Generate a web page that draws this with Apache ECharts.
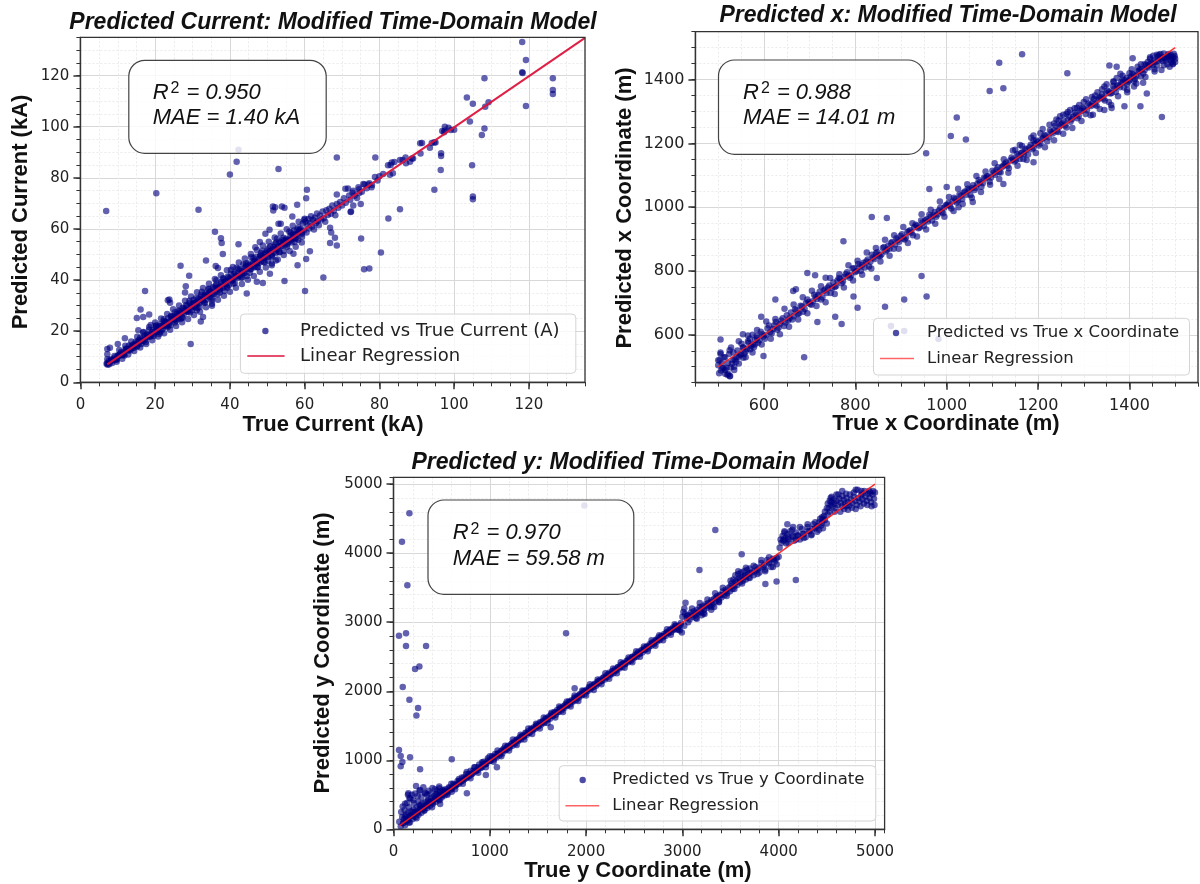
<!DOCTYPE html>
<html>
<head>
<meta charset="utf-8">
<title>Modified Time-Domain Model: predicted vs true</title>
<script src="https://cdn.jsdelivr.net/npm/echarts@6/dist/echarts.min.js"></script>
<style>
  html, body { margin: 0; padding: 0; background: #ffffff; }
  #chart { width: 1200px; height: 884px; }
</style>
</head>
<body>
<div id="chart"></div>
<script>
// ---------- Current (kA): [true, predicted] ----------
const currentBand = [
  [7.0,7.3],[7.3,6.9],[7.6,8.4],[7.9,7.8],[8.2,8.6],[8.5,7.6],[8.8,8.9],[9.1,10.3],[9.4,9.0],[9.7,9.0],
  [10.0,10.6],[10.3,10.6],[10.6,10.5],[10.9,11.9],[11.2,10.6],[11.5,11.7],[11.8,10.5],[12.1,12.8],[12.4,12.8],[12.7,12.4],
  [13.0,14.4],[13.3,12.4],[13.6,13.7],[13.9,13.4],[14.2,14.8],[14.5,14.5],[14.8,15.9],[15.1,14.0],[15.4,16.0],[15.7,15.3],
  [16.0,17.4],[16.3,15.0],[16.6,17.1],[16.9,19.7],[17.2,16.6],[17.5,15.8],[17.8,18.7],[18.1,17.9],[18.4,20.6],[18.7,17.8],
  [19.0,18.5],[19.3,20.4],[19.6,18.1],[19.9,19.9],[20.2,22.2],[20.5,19.7],[20.8,21.3],[21.1,18.9],[21.4,22.8],[21.7,22.0],
  [22.0,21.0],[22.3,24.7],[22.6,22.1],[22.9,23.7],[23.2,22.0],[23.5,25.1],[23.8,23.6],[24.1,22.3],[24.4,24.8],[24.7,25.7],
  [25.0,24.3],[25.3,27.4],[25.6,24.2],[25.9,26.6],[26.2,25.9],[26.5,27.8],[26.8,24.8],[27.1,27.3],[27.4,29.2],[27.7,26.8],
  [28.0,28.5],[28.3,27.7],[28.6,30.1],[28.9,27.6],[29.2,31.9],[29.5,29.6],[29.8,28.2],[30.1,30.9],[30.4,30.9],[30.7,29.4],
  [31.0,33.0],[31.3,30.9],[31.6,32.7],[31.9,29.5],[32.2,32.3],[32.5,35.4],[32.8,31.8],[33.1,31.3],[33.4,34.7],[33.7,34.4],
  [34.0,33.8],[34.3,36.6],[34.6,33.2],[34.9,35.3],[35.2,32.1],[35.5,37.2],[35.8,36.8],[36.1,35.4],[36.4,39.9],[36.7,34.5],
  [37.0,37.2],[37.3,36.2],[37.6,39.2],[37.9,37.8],[38.2,40.7],[38.5,35.7],[38.8,39.6],[39.1,38.6],[39.4,41.3],[39.7,38.0],
  [40.0,40.6],[40.3,44.0],[40.6,39.8],[40.9,38.6],[41.2,42.4],[41.5,41.3],[41.8,44.8],[42.1,40.9],[42.4,41.8],[42.7,44.1],
  [43.0,41.0],[43.3,43.3],[43.6,46.2],[43.9,42.8],[44.2,44.9],[44.5,41.6],[44.8,46.6],[45.1,45.5],[45.4,44.1],[45.7,48.9],
  [46.0,45.3],[46.3,47.4],[46.6,45.0],[46.9,49.1],[47.2,47.0],[47.5,45.1],[47.8,48.3],[48.1,49.4],[48.4,47.4],[48.7,51.5],
  [49.0,47.1],[49.3,50.3],[49.6,49.2],[49.9,51.6],[50.2,47.6],[50.5,50.7],[50.8,53.2],[51.1,49.9],[51.4,52.0],[51.7,50.9],
  [52.0,54.0],[52.3,50.6],[52.6,56.2],[52.9,53.0],[53.2,51.0],[53.5,54.6],[53.8,53.3],[54.1,55.7],[54.4,51.4],[54.7,55.4],
  [55.0,56.2],[55.3,53.9],[55.6,55.8],[55.9,59.0],[56.2,55.6],[56.5,54.7],[56.8,57.6],[57.1,59.4],[57.4,56.4],[57.7,57.6],
  [58.0,59.8],[58.3,55.8],[58.6,59.1],[58.9,60.0],[59.2,58.0],[59.5,62.1],[59.8,59.4],
  [60.2,62.8],[60.5,58.6],[60.8,61.5],[61.0,63.9],[61.2,60.2],[61.5,62.4],[61.7,65.0],[62.0,61.0],[62.2,63.6],[62.5,59.8],
  [62.7,64.4],[63.0,62.2],[63.3,66.1],[63.5,63.0],[63.8,61.5],[64.1,65.3],[64.4,63.7],[64.8,66.8],[65.1,64.2],[65.5,62.8],
  [65.8,67.3],[66.2,65.5],[66.6,67.9],[67.0,66.0],[67.4,69.2],[67.8,67.1],[68.2,65.4],[68.6,69.8],[69.0,68.3],[69.5,70.6],
  [70.0,69.2],[70.5,72.0],[71.0,70.3],[71.6,75.8],[72.2,71.4],[72.8,74.2],[73.4,73.0],[74.0,72.1],[74.6,75.5],[75.3,74.6],
  [76.0,77.4],[76.6,75.9],[77.3,77.9],[78.0,77.2],[78.8,80.3],[79.5,79.0]
];
const currentCore = [
  [7.2,7.5],[7.7,7.1],[8.2,9.0],[8.7,8.5],[9.2,9.7],[9.7,8.8],[10.2,10.3],[10.7,11.3],[11.2,10.8],[11.7,11.0],
  [12.2,13.2],[12.7,12.9],[13.2,12.9],[13.7,14.4],[14.2,13.4],[14.7,15.1],[15.2,14.1],[15.7,16.6],[16.2,16.2],[16.7,16.2],
  [17.2,18.4],[17.7,17.5],[18.2,18.5],[18.7,18.1],[19.2,19.6],[19.7,18.8],[20.2,21.4],[20.7,20.4],[21.2,21.9],[21.7,20.3],
  [22.2,22.3],[22.7,23.6],[23.2,22.6],[23.7,22.6],[24.2,25.7],[24.7,25.0],[25.2,24.7],[25.7,26.7],[26.2,25.0],[26.7,27.3],
  [27.2,25.5],[27.7,29.0],[28.2,28.2],[28.7,27.9],[29.2,31.0],[29.7,29.4],[30.2,30.6],[30.7,29.8],[31.2,31.6],[31.7,30.8],
  [32.2,33.4],[32.7,32.4],[33.2,33.9],[33.7,32.3],[34.2,34.3],[34.7,35.6],[35.2,34.6],[35.7,34.6],[36.2,37.7],[36.7,37.0],
  [37.2,36.7],[37.7,38.7],[38.2,37.0],[38.7,39.3],[39.2,37.5],[39.7,41.0],[40.2,40.2],[40.7,39.9],[41.2,43.0],[41.7,41.4],
  [42.2,42.6],[42.7,41.8],[43.2,43.6],[43.7,42.8],[44.2,45.4],[44.7,44.4],[45.2,45.9],[45.7,44.3],[46.2,46.3],[46.7,47.6],
  [47.2,46.6],[47.7,46.6],[48.2,49.7],[48.7,49.0],[49.2,48.7],[49.7,50.7],[50.2,49.0],[50.7,51.3],[51.2,49.5],[51.7,53.0],
  [52.2,52.2],[52.7,51.9],[53.2,55.0],[53.7,53.4],[54.2,54.6],[54.7,53.8],[55.2,55.6],[55.7,54.8],[56.2,57.4],[56.7,56.4],
  [57.2,57.9],[57.7,56.3],[58.2,58.3],[58.7,59.6],[59.2,58.6]
];
const currentMid = [
  [20.3,22.0],[21.3,19.6],[22.3,23.9],[23.3,21.5],[24.3,26.0],[25.3,23.4],[26.3,28.1],[27.3,25.3],[28.3,30.2],[29.3,27.3],
  [30.3,32.3],[31.3,29.1],[32.3,34.3],[33.3,31.0],[34.3,36.4],[35.3,33.0],[36.3,38.3],[37.3,35.1],[38.3,40.4],[39.3,37.0],
  [40.3,42.5],[41.3,38.9],[42.3,44.4],[43.3,41.0],[44.3,46.5],[45.3,42.9],[46.3,48.5],[47.3,45.0],[48.3,50.6],[49.3,46.9],
  [50.3,52.5],[51.3,49.0],[52.3,54.6],[53.3,50.9],[54.3,56.6],[55.3,53.0],[56.3,58.5],[57.3,54.9],[58.3,60.6],[59.3,57.0]
];
const currentWide = [
  [10.4,12.6],[11.2,9.2],[12.0,14.3],[12.8,10.9],[13.6,16.0],[14.4,12.2],[15.2,17.8],[16.0,13.6],[16.8,19.5],[17.6,15.0],
  [18.4,21.6],[19.2,16.5],[20.0,23.4],[20.8,17.9],[21.6,25.0],[22.4,19.2],[23.2,26.7],[24.0,20.6],[24.8,28.6],[25.6,22.0],
  [26.4,30.1],[27.2,23.5],[28.0,31.9],[28.8,24.8],[29.6,33.6],[30.4,26.3],[31.2,35.2],[32.0,27.6],[32.8,36.9],[33.6,29.4],
  [34.4,38.6],[35.2,30.7],[36.0,40.4],[36.8,32.3],[37.6,41.9],[38.4,33.9],[39.2,43.8],[40.0,35.4],[40.8,45.1],[41.6,37.0],
  [42.4,46.9],[43.2,38.5],[44.0,48.4],[44.8,40.1],[45.6,50.2],[46.4,41.6],[47.2,51.8],[48.0,43.3],[48.8,53.5],[49.6,44.9],
  [50.4,55.0],[51.2,46.5],[52.0,56.7],[52.8,48.1],[53.6,58.2],[54.4,49.8],[55.2,59.9],[56.0,51.4],[56.8,61.3],[57.6,53.0],
  [58.4,62.8],[59.2,54.7],[60.0,64.0]
];
const currentOutliers = [
  [7.2,13.0],[7.9,13.5],[7.2,11.0],[7.2,9.0],[9.7,8.0],[10.0,15.0],[11.9,17.2],
  [6.9,67.0],[20.3,74.0],[31.6,67.5],[40.0,81.3],[41.8,86.3],[42.3,91.0],[53.0,83.5],[68.6,88.0],
  [36.0,58.9],[37.6,56.4],[37.8,54.5],[33.6,47.7],[38.1,50.2],[42.3,54.0],[26.8,45.6],[29.1,41.7],[17.3,35.7],[29.5,15.0],
  [54.6,39.6],[60.1,35.7],[65.0,41.0],[60.4,48.2],[61.4,51.3],
  [118.2,133.2],[119.2,126.1],[118.2,121.3],[118.3,121.0],[126.4,119.0],[126.4,114.4],[126.4,112.8],[119.2,108.1],[108.1,119.0],
  [103.4,111.4],[105.0,109.0],[108.3,107.8],[109.2,109.6],[104.2,102.1],[108.1,99.3],[107.4,96.8],
  [97.5,100.0],[96.8,98.3],[97.3,97.8],[99.1,98.7],[94.0,93.6],[94.7,93.9],[90.9,93.5],[91.0,89.5],[96.5,89.6],[96.5,88.6],
  [96.4,83.1],[94.7,75.3],[104.8,84.9],[105.0,72.7],[105.0,71.6],
  [88.7,87.6],[87.1,85.7],[86.2,87.0],[82.3,84.9],[83.3,86.0],[82.8,81.2],[78.9,88.0],[80.0,80.6],[85.5,67.7],[82.4,64.1],
  [80.4,50.8],[75.1,56.3],[75.9,44.2],[77.3,44.5],
  [66.8,60.5],[67.1,58.6],[68.1,56.6],[66.8,54.5],[68.6,53.5],
  [72.4,66.8],[75.0,69.8],[73.0,69.2],[70.9,75.7],[71.9,73.1],[73.0,75.0],[74.4,76.3],[75.7,77.6],[77.0,77.4],[77.9,76.3],[74.6,74.1],
  [68.6,73.5],[72.3,66.6],[60.4,72.0],[60.6,75.3],[58.0,69.5],[53.9,68.8],[51.5,68.8],[53.0,62.0],[50.6,59.7],[59.9,63.6],
  [44.5,34.7],[48.8,38.9],[50.7,42.5],[47.2,39.3],[52.3,47.7],[58.1,45.8],[57.0,50.3],[51.2,45.8],
  [16.1,28.5],[15.1,25.2],[16.8,25.6],[18.4,26.5],[18.8,22.4],[15.5,20.4],[23.4,32.1],[24.0,31.1],[28.2,37.6],[28.0,35.1],
  [36.2,45.5],[36.8,44.7],[46.8,52.8],[35.2,30.0],[32.8,25.6],[31.1,28.2],[32.2,23.8],[23.8,32.4],[51.6,67.2],[52.1,68.5],
  [54.6,68.3],[56.7,64.9],[53.6,62.0],[49.5,58.1],[48.0,54.9],
  [81.0,81.5],[83.0,85.0],[84.0,86.2],[83.6,81.8],[85.5,87.0],[87.0,88.0],[88.2,86.3],[89.0,87.6],[91.4,93.6],[93.5,91.8],
  [95.0,93.8],[97.5,98.5],[98.5,99.6],[100.0,98.8]
];
const currentFit = [[7.2,7.0],[135,134.8]];

// ---------- x coordinate (m): [true, predicted] ----------
const xBandA = [
  [500,505],[506,488],[512,530],[518,497],[524,540],[530,509],[536,523],[542,551],[548,537],[554,560],
  [560,548],[566,575],[572,565],[578,561],[584,596],[590,583],[596,602],[602,588],[608,621],[614,609],
  [620,618],[626,640],[632,622],[638,645],[644,628],[650,661],[656,652],[662,648],[668,680],[674,665],
  [680,691],[686,672],[692,700],[698,703],[704,694],[710,726],[716,712],[722,735],[728,717],[734,742],
  [740,748],[746,731],[752,764],[758,753],[764,778],[770,762],[776,781],[782,796],[788,779],[794,808],
  [800,797],[806,822],[812,801],[818,826],[824,830],[830,814],[836,851],[842,838],[848,859],[854,846],
  [860,872],[866,861],[872,879],[878,888],[884,870],[890,903],[896,892],[902,915],[908,899],[914,922],
  [920,928],[926,912],[932,945],[938,934],[944,958],[950,941],[956,962],[962,976],[968,958],[974,985],
  [980,977],[986,998],[992,981],[998,1006],[1004,1013],[1010,996],[1016,1030],[1022,1015],[1028,1040],[1034,1026],
  [1040,1049],[1046,1058],[1052,1038],[1058,1069],[1064,1061],[1070,1085],[1076,1064],[1082,1093],[1088,1096],[1094,1080],
  [1100,1114],[1106,1102],[1112,1125],[1118,1109],[1124,1131],[1130,1140],[1136,1122],[1142,1156],[1148,1143],[1154,1167],
  [1160,1151],[1166,1172],[1172,1183],[1178,1165],[1184,1196],[1190,1186],[1196,1209],[1202,1193],[1208,1214],[1214,1226],
  [1220,1207],[1226,1240],[1232,1231],[1238,1255],[1244,1236],[1250,1258],[1256,1271],[1262,1250],[1268,1285],[1274,1276],
  [1280,1296],[1286,1279],[1292,1303],[1298,1312],[1304,1292],[1310,1325],[1316,1317],[1322,1339],[1328,1318],[1334,1342],
  [1340,1353],[1346,1334],[1352,1366],[1358,1356],[1364,1379],[1370,1361],[1376,1383],[1382,1392],[1388,1375],[1394,1405],
  [1400,1399],[1406,1418],[1412,1402],[1418,1425],[1424,1433],[1430,1419],[1436,1446],[1442,1438],[1448,1452],[1454,1460],
  [1460,1444],[1466,1470],[1472,1458],[1478,1466],[1484,1475],[1490,1462],[1496,1470],[1500,1455]
];
const xBandB = [
  [503,520],[509,495],[515,478],[521,512],[527,498],[533,545],[539,516],[545,531],[551,572],[557,541],
  [563,556],[569,588],[575,570],[581,584],[587,575],[593,610],[599,595],[605,600],[611,629],[617,605],
  [623,630],[629,616],[635,634],[641,652],[647,639],[653,645],[659,670],[665,658],[671,677],[677,668],
  [683,689],[689,681],[695,711],[701,697],[707,705],[713,719],[719,725],[725,711],[731,738],[737,731],
  [743,755],[749,746],[755,750],[761,770],[767,774],[773,767],[779,790],[785,786],[791,787],[797,809],
  [803,800],[809,813],[815,819],[821,811],[827,836],[833,829],[839,842],[845,855],[851,848],[857,852],
  [863,875],[869,866],[875,870],[881,891],[887,883],[893,897],[899,910],[905,902],[911,906],[917,925],
  [923,920],[929,937],[935,942],[941,936],[947,952],[953,959],[959,955],[965,971],[971,975],[977,970],
  [983,990],[989,986],[995,999],[1001,1008],[1007,1004],[1013,1018],[1019,1026],[1025,1020],[1031,1036],[1037,1045],
  [1043,1039],[1049,1055],[1055,1059],[1061,1054],[1067,1073],[1073,1079],[1079,1075],[1085,1091],[1091,1097],[1097,1093],
  [1103,1108],[1109,1117],[1115,1110],[1121,1126],[1127,1135],[1133,1130],[1139,1146],[1145,1150],[1151,1147],[1157,1162],
  [1163,1170],[1169,1166],[1175,1180],[1181,1188],[1187,1182],[1193,1199],[1199,1205],[1205,1200],[1211,1217],[1217,1224],
  [1223,1219],[1229,1236],[1235,1241],[1241,1238],[1247,1253],[1253,1262],[1259,1256],[1265,1273],[1271,1268],[1277,1284],
  [1283,1290],[1289,1286],[1295,1302],[1301,1309],[1307,1304],[1313,1320],[1319,1327],[1325,1322],[1331,1337],[1337,1345],
  [1343,1340],[1349,1356],[1355,1362],[1361,1358],[1367,1372],[1373,1380],[1379,1376],[1385,1391],[1391,1397],[1397,1393],
  [1403,1409],[1409,1414],[1415,1411],[1421,1428],[1427,1432],[1433,1429],[1439,1441],[1445,1448],[1451,1446],[1457,1455],
  [1463,1459],[1469,1464],[1475,1470],[1481,1468],[1487,1473],[1493,1466],[1499,1474]
];
const xWide = [
  [505,545],[515,490],[525,552],[535,500],[545,580],[555,528],[565,598],[575,545],[585,615],[595,570],
  [605,642],[615,588],[625,650],[635,602],[645,682],[655,625],[665,695],[675,648],[685,718],[695,668],
  [705,738],[715,690],[725,752],[735,702],[745,778],[755,728],[765,790],[775,748],[785,818],[795,770],
  [805,832],[815,788],[825,858],[835,808],[845,872],[855,830],[865,898],[875,848],[885,912],[895,870],
  [905,938],[915,888],[925,950],[935,908],[945,978],[955,930],[965,992],[975,948],[985,1018],[995,970],
  [1005,1032],[1015,988],[1025,1058],[1035,1010],[1045,1072],[1055,1030],[1065,1098],[1075,1048],[1085,1112],[1095,1070],
  [1105,1138],[1115,1088],[1125,1150],[1135,1108],[1145,1178],[1155,1130],[1165,1192],[1175,1148],[1185,1218],[1195,1170],
  [1205,1232],[1215,1188],[1225,1258],[1235,1210],[1245,1272],[1255,1230],[1265,1298],[1275,1248],[1285,1312],[1295,1270],
  [1305,1338],[1315,1288],[1325,1350],[1335,1308],[1345,1378],[1355,1330],[1365,1392],[1375,1348],[1385,1412],[1395,1368],
  [1405,1432],[1415,1388],[1425,1448],[1435,1408],[1445,1470],[1455,1432],[1465,1478],[1475,1445],[1485,1480],[1495,1450]
];
const xSpread = [
  [1445,1465],[1452,1475],[1460,1478],[1468,1480],[1475,1482],[1483,1448],[1490,1478],[1497,1481],[1500,1465],[1495,1448],
  [1488,1440],[1470,1430],[1462,1472],[1455,1425],[1480,1460],[1492,1456],[1440,1455],[1433,1448],[1425,1410],[1410,1395],
  [1418,1440],[1400,1420],[1395,1385],[1385,1400],[1380,1418],[1372,1405],[1365,1395],[1350,1385],[1340,1370],[1330,1360],
  [1318,1345],[1300,1330],[1290,1320],[1280,1310],[1270,1305],[1262,1292],[1255,1290],[1248,1285],[1240,1275],[1235,1262],
  [1210,1245],[1190,1225],[1160,1195],[1150,1180],[1320,1290],[1345,1305],[1360,1320],[1395,1360],[1410,1378],[1430,1390],
  [500,520],[502,480],[505,540],[508,512],[512,495],[515,530],[520,475],[525,470],[528,560],[532,520],
  [535,490],[540,530],[545,510],[550,540],[555,560],[560,530],[565,580],[570,555],[575,600],[580,570],[585,590]
];
const xOutliers = [
  [1165,1479],[1115,1453],[1094,1364],[1124,1373],[1022,1281],[1009,1223],[1042,1212],[955,1169],[1264,1420],[1471,1283],
  [1438,1356],[1424,1316],[1389,1316],[1361,1311],[1356,1444],[1372,1440],[1407,1467],[1190,1141],[1168,1151],[1124,1073],
  [1190,1209],[1000,1063],[1057,1016],[1026,1000],[836,969],[869,966],[774,893],[945,784],[956,720],[907,711],
  [865,688],[796,720],[805,685],[847,778],[756,657],[770,634],[717,640],[688,530],[695,794],[712,787],
  [735,779],[664,737],[670,743],[625,711],[594,657],[599,534],[554,602],[505,585],[526,471],[522,477],
  [962,1057],[878,628],[907,612],[982,587]
];
const xFit = [[500,500],[1500,1500]];

// ---------- y coordinate (m): [true, predicted] ----------
const yBand = [
  [60,110],[75,40],[90,180],[100,90],[110,150],[120,60],[130,210],[140,120],[150,240],[160,180],
  [170,100],[180,260],[190,200],[200,150],[210,290],[220,230],[230,180],[240,320],[250,260],[260,210],
  [270,350],[280,300],[290,240],[300,380],[310,320],[320,280],[330,400],[340,350],[350,310],[360,430],
  [370,380],[380,340],[390,450],[400,410],[410,370],[420,480],[430,440],[440,400],[450,510],[460,470],
  [470,430],[480,540],[490,500],[500,460],[510,560],[520,520],[530,490],[540,580],[550,545],[560,520],
  [575,610],[590,570],[605,590],[620,660],[635,620],[650,640],[665,700],[680,660],[695,690],[710,750],
  [725,710],[740,730],[755,800],[770,760],[785,770],[800,850],[815,800],[830,820],[845,900],[860,850],
  [875,860],[890,940],[905,890],[920,900],[935,980],[950,940],[965,950],[980,1030],[995,990],[1010,1000],
  [1025,1060],[1040,1010],[1055,1090],[1070,1040],[1085,1100],[1100,1070],[1115,1130],[1130,1100],[1145,1170],[1160,1140],
  [1175,1160],[1190,1210],[1205,1180],[1220,1230],[1235,1210],[1250,1270],[1265,1240],[1280,1300],[1295,1280],[1310,1330],
  [1325,1300],[1340,1360],[1355,1340],[1370,1400],[1385,1370],[1400,1420],[1415,1400],[1430,1460],[1445,1430],[1460,1480],
  [1475,1460],[1490,1520],[1505,1490],[1520,1550],[1535,1520],[1550,1570],[1565,1540],[1580,1610],[1595,1580],[1610,1630],
  [1625,1600],[1640,1670],[1655,1640],[1670,1700],[1685,1660],[1700,1730],[1715,1700],[1730,1760],[1745,1720],[1760,1780],
  [1775,1760],[1790,1820],[1805,1790],[1820,1850],[1835,1810],[1850,1870],[1865,1850],[1880,1910],[1895,1870],[1910,1930],
  [1925,1910],[1940,1960],[1955,1940],[1970,2000],[1985,1960],[2000,2020],[2015,2000],[2030,2060],[2045,2030],[2060,2080],
  [2075,2060],[2090,2110],[2105,2080],[2120,2140],[2135,2120],[2150,2170],[2165,2150],[2180,2200],[2195,2170],[2210,2230],
  [2225,2210],[2240,2270],[2255,2240],[2270,2290],[2285,2260],[2300,2320],[2315,2300],[2330,2350],[2345,2330],[2360,2380],
  [2375,2350],[2390,2410],[2405,2390],[2420,2440],[2435,2420],[2450,2470],[2465,2440],[2480,2500],[2495,2480],[2510,2530],
  [2525,2500],[2540,2570],[2555,2540],[2570,2590],[2585,2560],[2600,2620],[2615,2600],[2630,2650],[2645,2620],[2660,2680],
  [2675,2660],[2690,2710],[2705,2680],[2720,2740],[2735,2720],[2750,2780],[2765,2740],[2780,2800],[2795,2780],[2810,2830],
  [2825,2800],[2840,2860],[2855,2840],[2870,2890],[2885,2860],[2900,2920],[2915,2890],[2930,2950],[2945,2900],[2960,2940],
  [2975,2880],[2985,2990],[2995,2850],[3000,3080],[3010,3150],[3020,2950],
  [3030,3120],[3045,3060],[3060,3100],[3075,3040],[3090,3140],[3105,3080],[3120,3160],[3135,3100],[3150,3180],[3165,3130],
  [3180,3220],[3195,3150],[3210,3230],[3225,3180],[3240,3260],[3255,3210],[3270,3280],[3285,3240],[3300,3320],[3315,3260],
  [3330,3340],[3345,3300],[3360,3380],[3375,3330],[3390,3400],[3405,3360],[3420,3450],[3435,3390],[3450,3470],[3465,3420],
  [3480,3500],[3495,3450],[3150,3050],[3200,3100],[3230,3120],[3300,3180],[3330,3220],[3380,3290],
  [3510,3560],[3520,3480],[3530,3620],[3540,3520],[3550,3680],[3560,3600],[3570,3540],[3580,3700],[3590,3640],[3600,3580],
  [3610,3720],[3620,3660],[3630,3600],[3640,3740],[3650,3680],[3660,3620],[3670,3760],[3680,3700],[3690,3650],[3700,3780],
  [3720,3720],[3740,3680],[3760,3800],[3780,3760],[3800,3720],[3820,3860],[3840,3800],[3860,3760],[3880,3900],[3900,3850],
  [3920,3800],[3940,3920],[3960,3880],[3980,3840],[4000,3950],
  [4010,4080],[4020,4200],[4030,4150],[4040,4250],[4050,4180],[4060,4300],[4070,4220],[4080,4140],[4090,4280],[4100,4200],
  [4120,4320],[4140,4240],[4160,4180],[4180,4300],[4200,4250],[4220,4200],[4240,4350],[4260,4280],[4280,4230],[4300,4380],
  [4320,4320],[4340,4270],[4360,4420],[4380,4360],[4400,4310],[4420,4450],[4440,4400],[4460,4360],[4480,4480],[4500,4430],
  [4090,4420],[4150,4380],
  [4510,4720],[4520,4650],[4530,4760],[4540,4700],[4550,4740],[4560,4680],[4570,4780],[4580,4720],[4590,4650],[4600,4760],
  [4615,4700],[4630,4790],[4645,4730],[4660,4680],[4675,4770],[4690,4720],[4705,4800],[4720,4740],[4735,4690],[4750,4780],
  [4765,4730],[4780,4820],[4795,4760],[4810,4700],[4825,4800],[4840,4750],[4855,4840],[4870,4780],[4885,4720],[4900,4820],
  [4915,4760],[4930,4860],[4945,4800],[4960,4740],[4975,4850],[4990,4790],[5000,4880],[4995,4700],[4980,4900],[4965,4680],
  [4950,4880],[4920,4700],[4890,4900],[4870,4860],[4850,4680],[4820,4920],[4800,4640],[4780,4880],[4760,4660],[4740,4850],
  [4720,4630],[4700,4860],[4680,4640],[4660,4830],[4640,4600],[4620,4850],[4580,4600],[4550,4820],[4530,4600],[4510,4560],
  [4480,4600],[4470,4540],[4450,4520],[4430,4500],[4800,4920]
];
const yCore = [
  [105,95],[130,150],[155,140],[180,200],[205,190],[230,250],[255,240],[280,300],[305,290],[330,345],
  [355,340],[380,395],[405,390],[430,445],[455,440],[480,495],[505,490],[530,550],[555,545],[580,600],
  [605,595],[630,645],[655,650],[680,700],[705,695],[730,750],[755,745],[780,800],[805,795],[830,850],
  [855,845],[880,900],[905,895],[930,950],[955,945],[980,1000],[1005,995],[1030,1045],[1055,1050],[1080,1095],
  [1105,1100],[1130,1145],[1155,1150],[1180,1195],[1205,1200],[1230,1245],[1255,1250],[1280,1295],[1305,1300],[1330,1345],
  [1355,1350],[1380,1395],[1405,1400],[1430,1445],[1455,1450],[1480,1495],[1505,1500],[1530,1545],[1555,1550],[1580,1595],
  [1605,1600],[1630,1645],[1655,1650],[1680,1695],[1705,1700],[1730,1745],[1755,1750],[1780,1795],[1805,1800],[1830,1845],
  [1855,1850],[1880,1895],[1905,1900],[1930,1945],[1955,1950],[1980,1995],[2005,2000],[2030,2045],[2055,2050],[2080,2095],
  [2105,2100],[2130,2145],[2155,2150],[2180,2195],[2205,2200],[2230,2245],[2255,2250],[2280,2295],[2305,2300],[2330,2345],
  [2355,2350],[2380,2395],[2405,2400],[2430,2445],[2455,2450],[2480,2495],[2505,2500],[2530,2545],[2555,2550],[2580,2595],
  [2605,2600],[2630,2645],[2655,2650],[2680,2695],[2705,2700],[2730,2745],[2755,2750],[2780,2795],[2805,2800],[2830,2845],
  [2855,2850],[2880,2895],[2905,2900],[2930,2945],[2955,2930],[2980,2960],
  [3050,3090],[3100,3110],[3150,3140],[3200,3200],[3250,3240],[3300,3290],[3350,3360],[3400,3390],[3450,3440],[3500,3520],
  [3550,3580],[3600,3620],[3650,3660],[3700,3710],[3750,3740],[3800,3790],[3850,3830],[3900,3870],[3950,3910],[4050,4200],
  [4100,4230],[4150,4250],[4200,4260],[4250,4280],[4300,4320],[4350,4350],[4400,4390],[4450,4440]
];
const yWide = [
  [120,190],[160,100],[200,250],[240,160],[280,340],[320,270],[360,410],[400,320],[440,510],[480,420],
  [520,570],[560,500],[600,660],[640,580],[680,730],[720,660],[760,830],[800,740],[840,900],[880,820],
  [920,970],[960,900],[1000,1060],[1040,980],[1080,1140],[1120,1060],[1160,1210],[1200,1140],[1240,1300],[1280,1220],
  [1320,1370],[1360,1300],[1400,1460],[1440,1380],[1480,1530],[1520,1460],[1560,1620],[1600,1540],[1640,1690],[1680,1620],
  [1720,1780],[1760,1700],[1800,1850],[1840,1780],[1880,1940],[1920,1860],[1960,2010],[2000,1940],[2040,2100],[2080,2020],
  [2120,2170],[2160,2100],[2200,2260],[2240,2180],[2280,2330],[2320,2260],[2360,2420],[2400,2340],[2440,2490],[2480,2420],
  [2520,2580],[2560,2500],[2600,2650],[2640,2580],[2680,2740],[2720,2660],[2760,2810],[2800,2740],[2840,2900],[2880,2820],
  [2920,2970],[2960,2890],
  [3020,3200],[3060,3000],[3100,3200],[3140,3060],[3180,3280],[3220,3130],[3260,3330],[3300,3220],[3340,3420],[3380,3300],
  [3420,3500],[3460,3380],[3500,3600],[3540,3480],[3580,3740],[3620,3560],[3660,3790],[3700,3640],[3740,3820],[3780,3700],
  [3820,3900],[3860,3740],[3900,3940],[3940,3800],[3980,3930],[4060,4320],[4100,4150],[4140,4340],[4180,4200],[4220,4380],
  [4260,4220],[4300,4420],[4340,4260],[4380,4450],[4420,4340],[4460,4500],[4500,4650],[4540,4800],[4600,4850],[4660,4900],
  [4700,4680],[4860,4900],[4940,4900]
];
const yLowSpread = [
  [80,250],[95,330],[115,280],[140,380],[160,320],[175,450],[190,500],[205,420],[225,520],[250,480],
  [270,560],[290,470],[310,610],[330,520],[350,500],[365,560],[385,520],[405,600],[430,580],[455,560],
  [475,620],[150,500],[210,380],[120,370],[260,400],[154,522],[165,449],[234,628],[276,570],[328,530],
  [477,594],[484,367],[605,545]
];
const yOutliers = [
  [165,4580],[88,4168],[144,3536],[57,2806],[130,2840],[130,2657],[338,2657],[224,2323],[269,2357],[96,2062],
  [165,1878],[255,1758],[238,1647],[57,1149],[75,1062],[92,975],[75,913],[172,1043],[276,870],[605,1014],
  [959,787],[1074,899],[762,522],[1792,2840],[1982,4690],[1881,2043],[3342,4338],[3177,3758],[4178,3613],[3862,3555],
  [3978,3589],[3616,3986],[1633,1478],[3033,3284]
];
const yFit = [[60,50],[5000,5000]];

// ---------- Axis ticks ----------
const currentTicks = [0, 20, 40, 60, 80, 100, 120];
const xCoordTicks = [600, 800, 1000, 1200, 1400];
const yCoordTicks = [0, 1000, 2000, 3000, 4000, 5000];

// ---------- Panel text ----------
const titles = [
  'Predicted Current: Modified Time-Domain Model',
  'Predicted x: Modified Time-Domain Model',
  'Predicted y: Modified Time-Domain Model'
];
const xNames = ['True Current (kA)', 'True x Coordinate (m)', 'True y Coordinate (m)'];
const yNames = ['Predicted Current (kA)', 'Predicted x Coordinate (m)', 'Predicted y Coordinate (m)'];
const r2Values = ['0.950', '0.988', '0.970'];
const maeValues = ['1.40 kA', '14.01 m', '59.58 m'];
const scatterNames = ['Predicted vs True Current (A)', 'Predicted vs True x Coordinate', 'Predicted vs True y Coordinate'];
const fitName = 'Linear Regression';

// ---------- Styling helpers ----------
const NAVY = '#000080';
const TICK_FONT = 'DejaVu Sans';
const HEAD_FONT = 'Liberation Sans';

function minorAxis(grid, pos, min, max, step) {
  return {
    type: 'value', gridIndex: grid, position: pos, min: min, max: max, interval: step,
    axisLine: { show: false, onZero: false },
    axisTick: { show: true, inside: false, length: 4, lineStyle: { color: '#333', width: 1 } },
    axisLabel: { show: false },
    splitLine: { show: true, lineStyle: { color: '#ebebeb', width: 1, type: [2, 2] } },
    silent: true
  };
}
function majorAxis(grid, pos, min, max, interval, ticks, fontSize) {
  const ax = {
    type: 'value', gridIndex: grid, position: pos, min: min, max: max,
    axisLine: { show: true, onZero: false, lineStyle: { color: '#333', width: 1.3 } },
    axisTick: { show: true, inside: false, length: 7, lineStyle: { color: '#333', width: 1.5 }, customValues: ticks },
    axisLabel: {
      show: true, margin: pos === 'bottom' ? 15 : 11, fontFamily: TICK_FONT, fontSize: fontSize, color: '#222',
      customValues: ticks, formatter: function (v) { return String(v); }
    },
    splitLine: { show: true, lineStyle: { color: '#d8d8d8', width: 1 } },
    silent: true
  };
  if (interval) ax.interval = interval;
  return ax;
}
function scatterSeries(name, xi, yi, data) {
  return {
    type: 'scatter', name: name, xAxisIndex: xi, yAxisIndex: yi, data: data,
    symbol: 'circle', symbolSize: 6.5, itemStyle: { color: NAVY, opacity: 0.62 },
    silent: true, z: 2, animation: false
  };
}
function fitSeries(xi, yi, data, color, width, opacity) {
  return {
    type: 'line', name: fitName, xAxisIndex: xi, yAxisIndex: yi, data: data,
    symbol: 'none', lineStyle: { color: color, width: width, opacity: opacity },
    silent: true, z: 3, animation: false
  };
}

// Text helpers for the graphic layer
function label(x, y, text, size, weight, style, rot) {
  return {
    type: 'text', x: x, y: y, rotation: rot || 0, z: 120, silent: true,
    style: {
      text: text, fill: '#111', fontFamily: HEAD_FONT, fontSize: size, fontWeight: weight, fontStyle: style,
      textAlign: 'center', textVerticalAlign: 'middle', align: 'center', verticalAlign: 'middle'
    }
  };
}
function frame(x, y, w, h) {
  return { type: 'rect', z: 105, silent: true, shape: { x: x, y: y, width: w, height: h },
    style: { fill: 'none', stroke: '#333', lineWidth: 1.3 } };
}
function statBox(x, y, w, h, tx, ty1, ty2, r2, mae) {
  return [
    { type: 'rect', z: 110, silent: true, shape: { x: x, y: y, width: w, height: h, r: 16 },
      style: { fill: 'rgba(255,255,255,0.82)', stroke: '#444', lineWidth: 1.2 } },
    { type: 'text', x: tx, y: ty1, z: 120, silent: true,
      style: {
        text: '{i|R}{s|2}{i| = ' + r2 + '}', fill: '#111', textAlign: 'left', textVerticalAlign: 'middle',
        align: 'left', verticalAlign: 'middle',
        rich: {
          i: { fontFamily: HEAD_FONT, fontSize: 22, fontStyle: 'italic', fill: '#111', lineHeight: 24 },
          s: { fontFamily: HEAD_FONT, fontSize: 16, fill: '#111', verticalAlign: 'top', lineHeight: 14, padding: [0, 1, 0, 2] }
        }
      } },
    { type: 'text', x: tx, y: ty2, z: 120, silent: true,
      style: { text: 'MAE = ' + mae, fill: '#111', fontFamily: HEAD_FONT, fontSize: 22, fontStyle: 'italic',
        textAlign: 'left', textVerticalAlign: 'middle', align: 'left', verticalAlign: 'middle' } }
  ];
}
function legendBox(x, y, w, h, mx, my, lx1, lx2, ly, tx, scatterText, lineColor, lineWidth, fontSize) {
  return [
    { type: 'rect', z: 110, silent: true, shape: { x: x, y: y, width: w, height: h, r: 4 },
      style: { fill: 'rgba(255,255,255,0.8)', stroke: '#d4d4d4', lineWidth: 1 } },
    { type: 'circle', z: 120, silent: true, shape: { cx: mx, cy: my, r: 3.2 },
      style: { fill: NAVY, opacity: 0.7 } },
    { type: 'line', z: 120, silent: true, shape: { x1: lx1, y1: ly, x2: lx2, y2: ly },
      style: { stroke: lineColor, lineWidth: lineWidth, opacity: 0.75 } },
    { type: 'text', x: tx, y: my, z: 120, silent: true,
      style: { text: scatterText, fill: '#222', fontFamily: TICK_FONT, fontSize: fontSize,
        textAlign: 'left', textVerticalAlign: 'middle', align: 'left', verticalAlign: 'middle' } },
    { type: 'text', x: tx, y: ly, z: 120, silent: true,
      style: { text: fitName, fill: '#222', fontFamily: TICK_FONT, fontSize: fontSize,
        textAlign: 'left', textVerticalAlign: 'middle', align: 'left', verticalAlign: 'middle' } }
  ];
}

const chart = echarts.init(document.getElementById('chart'), null, { renderer: 'canvas' });

const grids = [
  { left: 80.4, top: 37.3, width: 504.6, height: 345 },
  { left: 695.4, top: 31.7, width: 502.6, height: 351 },
  { left: 393.5, top: 477.3, width: 491.1, height: 352 }
];

const option = {
  backgroundColor: '#ffffff',
  animation: false,
  grid: grids.map(function (g) {
    return Object.assign({ show: false, containLabel: false, outerBoundsMode: 'none' }, g);
  }),
  xAxis: [
    minorAxis(0, 'bottom', 0, 135, 5),
    majorAxis(0, 'bottom', 0, 135, 20, currentTicks, 15),
    minorAxis(1, 'bottom', 450, 1550, 50),
    majorAxis(1, 'bottom', 450, 1550, null, xCoordTicks, 16),
    minorAxis(2, 'bottom', 0, 5100, 200),
    majorAxis(2, 'bottom', 0, 5100, 1000, yCoordTicks, 15)
  ],
  yAxis: [
    minorAxis(0, 'left', 0, 135, 5),
    majorAxis(0, 'left', 0, 135, 20, currentTicks, 15),
    minorAxis(1, 'left', 450, 1550, 50),
    majorAxis(1, 'left', 450, 1550, null, xCoordTicks, 16),
    minorAxis(2, 'left', 0, 5100, 200),
    majorAxis(2, 'left', 0, 5100, 1000, yCoordTicks, 15)
  ],
  series: [
    scatterSeries(scatterNames[0], 1, 1, currentBand.concat(currentCore, currentMid, currentWide, currentOutliers)),
    fitSeries(1, 1, currentFit, '#dc143c', 2, 0.95),
    scatterSeries(scatterNames[1], 3, 3, xBandA.concat(xBandB, xWide, xSpread, xOutliers)),
    fitSeries(3, 3, xFit, '#ff1a1a', 1.5, 0.9),
    scatterSeries(scatterNames[2], 5, 5, yBand.concat(yCore, yWide, yLowSpread, yOutliers)),
    fitSeries(5, 5, yFit, '#ff1a1a', 1.5, 0.9)
  ],
  graphic: {
    elements: [
      frame(grids[0].left, grids[0].top, grids[0].width, grids[0].height),
      frame(grids[1].left, grids[1].top, grids[1].width, grids[1].height),
      frame(grids[2].left, grids[2].top, grids[2].width, grids[2].height),
      label(333, 23, titles[0], 23, 'bold', 'italic'),
      label(948, 16, titles[1], 23, 'bold', 'italic'),
      label(640, 463, titles[2], 23, 'bold', 'italic'),
      label(333, 425, xNames[0], 22, 'bold', 'normal'),
      label(946, 424, xNames[1], 22, 'bold', 'normal'),
      label(638, 871, xNames[2], 22, 'bold', 'normal'),
      label(21, 212, yNames[0], 22, 'bold', 'normal', Math.PI / 2),
      label(625, 208, yNames[1], 22, 'bold', 'normal', Math.PI / 2),
      label(323, 653, yNames[2], 22, 'bold', 'normal', Math.PI / 2)
    ].concat(
      statBox(128.8, 60.3, 197.4, 93, 152.7, 93, 118, r2Values[0], maeValues[0]),
      statBox(718.5, 60, 205.7, 94.3, 743, 93, 118, r2Values[1], maeValues[1]),
      statBox(428, 500, 205.8, 94.3, 452.7, 533.3, 559, r2Values[2], maeValues[2]),
      legendBox(240.4, 314, 335.4, 59.3, 265.4, 331, 247.3, 284.6, 356, 300, scatterNames[0], '#dc143c', 2, 18),
      legendBox(873.5, 318.3, 316, 56.7, 896, 333, 880, 914, 358.5, 927, scatterNames[1], '#ff3030', 1.6, 16.5),
      legendBox(559.2, 765.7, 316.6, 55.3, 582.7, 780, 565.4, 599.2, 805.7, 612.3, scatterNames[2], '#ff3030', 1.6, 16.5)
    )
  }
};

chart.setOption(option);
</script>
</body>
</html>
